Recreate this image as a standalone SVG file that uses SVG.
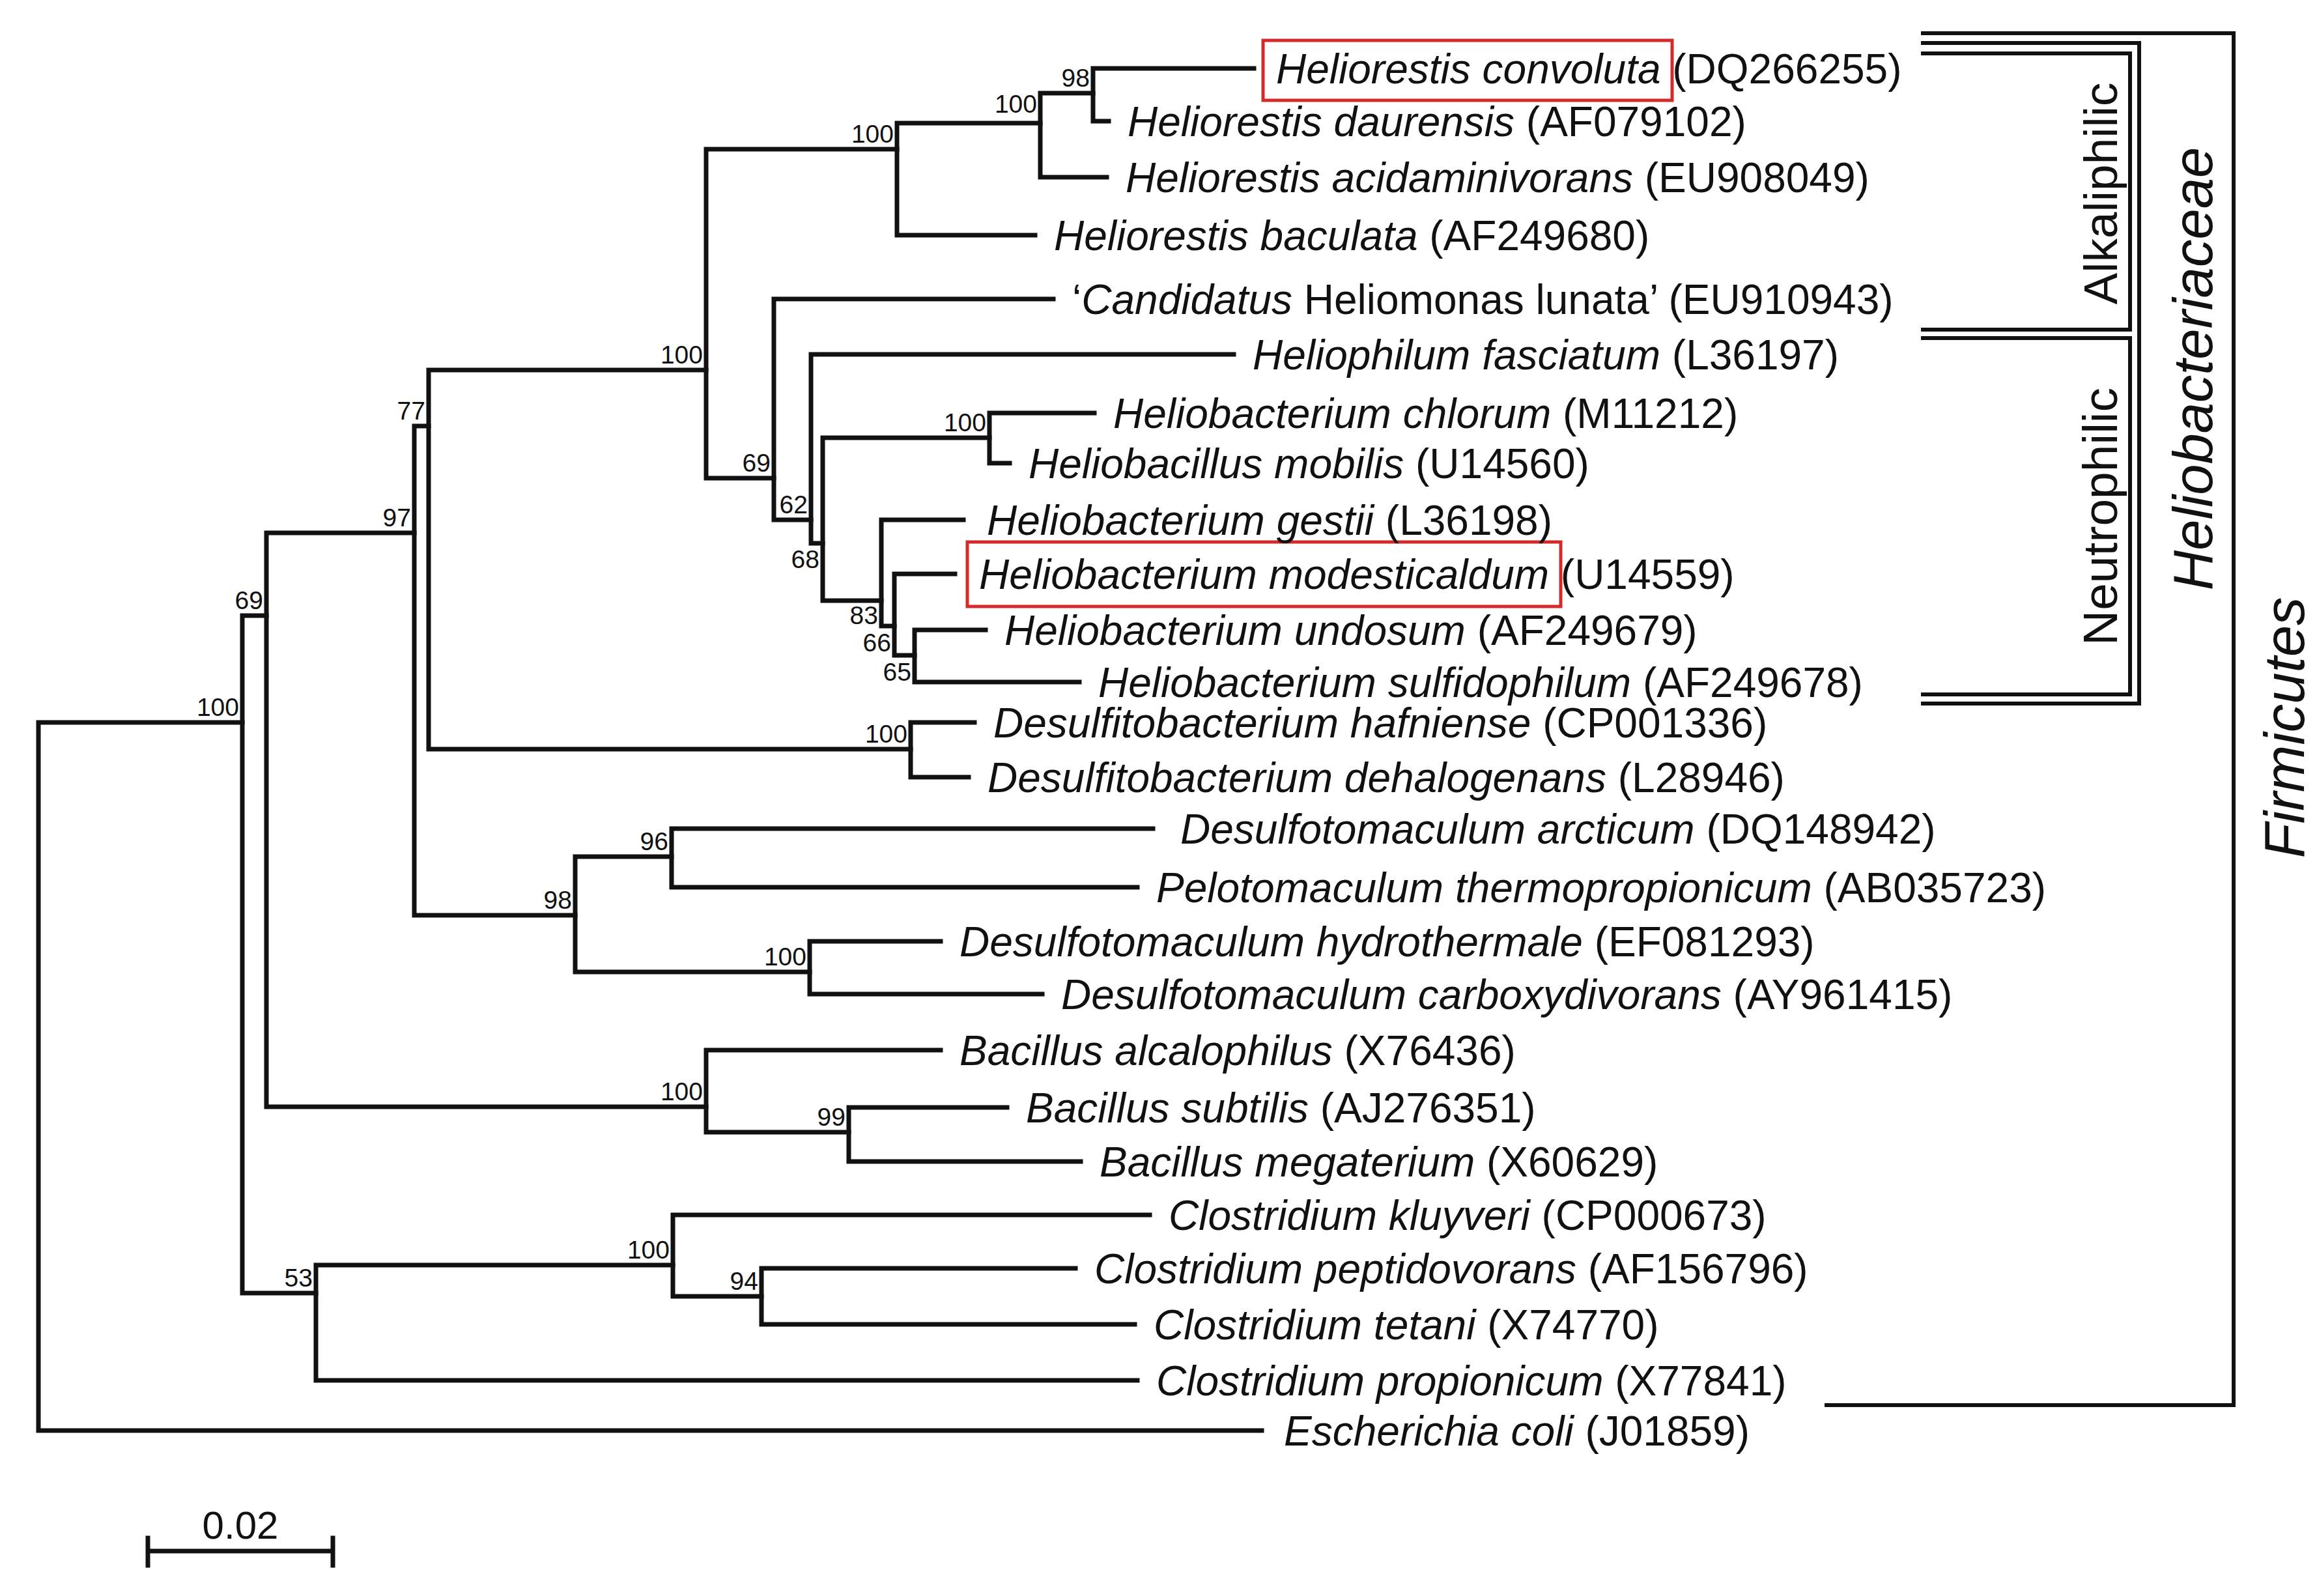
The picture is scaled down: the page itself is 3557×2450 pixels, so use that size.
<svg xmlns="http://www.w3.org/2000/svg" width="3557" height="2450" viewBox="0 0 3557 2450">
<style>
.t{font-family:"Liberation Sans",Arial,sans-serif;font-size:64px;fill:#111}
.i{font-style:italic}
.v{font-family:"Liberation Sans",Arial,sans-serif;fill:#111;text-anchor:middle}
.b{font-family:"Liberation Sans",Arial,sans-serif;font-size:39px;fill:#111;text-anchor:end}
.e path{fill:none;stroke:#111;stroke-width:7;stroke-linecap:square}
.k{fill:none;stroke:#111;stroke-width:6}
.box{fill:none;stroke:#d42a2a;stroke-width:5}
</style>
<rect width="3557" height="2450" fill="#fff"/>
<g id="connectors" class="e">
<path d="M59,1109V2196H1937M59,1109H372"/>
<path d="M372,945V1985M372,945H409M372,1985H485"/>
<path d="M409,818V1699M409,818H636M409,1699H1084"/>
<path d="M636,654V1405M636,654H658M636,1405H883"/>
<path d="M658,568V1150M658,568H1084M658,1150H1398"/>
<path d="M1084,229V734M1084,229H1377M1084,734H1188"/>
<path d="M1377,189V361M1377,189H1597M1377,361H1589"/>
<path d="M1597,143V272M1597,143H1678M1597,272H1699"/>
<path d="M1678,105V186M1678,105H1925M1678,186H1702"/>
<path d="M1188,459V798M1188,459H1617M1188,798H1245"/>
<path d="M1245,544V834M1245,544H1894M1245,834H1263"/>
<path d="M1263,672V922M1263,672H1519M1263,922H1353"/>
<path d="M1519,634V711M1519,634H1680M1519,711H1550"/>
<path d="M1353,798V961M1353,798H1479M1353,961H1373"/>
<path d="M1373,881V1006M1373,881H1466M1373,1006H1404"/>
<path d="M1404,967V1047M1404,967H1513M1404,1047H1657"/>
<path d="M1398,1109V1193M1398,1109H1496M1398,1193H1487"/>
<path d="M883,1315V1492M883,1315H1031M883,1492H1243"/>
<path d="M1031,1272V1362M1031,1272H1770M1031,1362H1746"/>
<path d="M1243,1445V1526M1243,1445H1444M1243,1526H1600"/>
<path d="M1084,1612V1738M1084,1612H1444M1084,1738H1303"/>
<path d="M1303,1700V1783M1303,1700H1546M1303,1783H1659"/>
<path d="M485,1942V2119M485,1942H1033M485,2119H1746"/>
<path d="M1033,1865V1990M1033,1865H1765M1033,1990H1169"/>
<path d="M1169,1947V2033M1169,1947H1651M1169,2033H1742"/>
<path d="M227,2381H511M227,2361V2403M511,2361V2403"/>
</g>
<g id="brackets">
<path class="k" d="M2949,51H3429V2157H2801"/>
<path class="k" d="M2949,66H3284V1080H2949"/>
<path class="k" d="M2949,82H3270V506H2949"/>
<path class="k" d="M2949,519H3270V1066H2949"/>
<text class="v" style="font-size:73px" transform="translate(3250,297) rotate(-90)">Alkaliphilic</text>
<text class="v" style="font-size:75px" transform="translate(3250,793) rotate(-90)">Neutrophilic</text>
<text class="v i" style="font-size:85px" transform="translate(3396,566) rotate(-90)">Heliobacteriaceae</text>
<text class="v i" style="font-size:87px" transform="translate(3537,1117) rotate(-90)">Firmicutes</text>
</g>
<g id="highlights">
<rect class="box" x="1939" y="62" width="628" height="92"/>
<rect class="box" x="1485" y="832" width="911" height="99"/>
</g>
<g id="bootstrap">
<text class="b" x="1673" y="133">98</text>
<text class="b" x="1592" y="173">100</text>
<text class="b" x="1372" y="219">100</text>
<text class="b" x="1079" y="558">100</text>
<text class="b" x="653" y="644">77</text>
<text class="b" x="631" y="808">97</text>
<text class="b" x="404" y="935">69</text>
<text class="b" x="367" y="1099">100</text>
<text class="b" x="1183" y="724">69</text>
<text class="b" x="1240" y="788">62</text>
<text class="b" x="1514" y="662">100</text>
<text class="b" x="1258" y="872">68</text>
<text class="b" x="1348" y="958">83</text>
<text class="b" x="1368" y="1000">66</text>
<text class="b" x="1399" y="1045">65</text>
<text class="b" x="1393" y="1140">100</text>
<text class="b" x="1026" y="1305">96</text>
<text class="b" x="878" y="1395">98</text>
<text class="b" x="1238" y="1482">100</text>
<text class="b" x="1079" y="1689">100</text>
<text class="b" x="1298" y="1728">99</text>
<text class="b" x="1028" y="1932">100</text>
<text class="b" x="1164" y="1980">94</text>
<text class="b" x="480" y="1975">53</text>
</g>
<g id="taxa">
<text class="t" x="1959" y="128"><tspan class="i">Heliorestis convoluta</tspan> (DQ266255)</text>
<text class="t" x="1731" y="209"><tspan class="i">Heliorestis daurensis</tspan> (AF079102)</text>
<text class="t" x="1728" y="295"><tspan class="i">Heliorestis acidaminivorans</tspan> (EU908049)</text>
<text class="t" x="1618" y="384"><tspan class="i">Heliorestis baculata</tspan> (AF249680)</text>
<text class="t" x="1646" y="482">‘<tspan class="i">Candidatus</tspan> Heliomonas lunata’ (EU910943)</text>
<text class="t" x="1923" y="567"><tspan class="i">Heliophilum fasciatum</tspan> (L36197)</text>
<text class="t" x="1709" y="657"><tspan class="i">Heliobacterium chlorum</tspan> (M11212)</text>
<text class="t" x="1579" y="734"><tspan class="i">Heliobacillus mobilis</tspan> (U14560)</text>
<text class="t" x="1515" y="821"><tspan class="i">Heliobacterium gestii</tspan> (L36198)</text>
<text class="t" x="1503" y="904"><tspan class="i">Heliobacterium modesticaldum</tspan> (U14559)</text>
<text class="t" x="1542" y="990"><tspan class="i">Heliobacterium undosum</tspan> (AF249679)</text>
<text class="t" x="1686" y="1070"><tspan class="i">Heliobacterium sulfidophilum</tspan> (AF249678)</text>
<text class="t" x="1525" y="1132"><tspan class="i">Desulfitobacterium hafniense</tspan> (CP001336)</text>
<text class="t" x="1516" y="1216"><tspan class="i">Desulfitobacterium dehalogenans</tspan> (L28946)</text>
<text class="t" x="1812" y="1295"><tspan class="i">Desulfotomaculum arcticum</tspan> (DQ148942)</text>
<text class="t" x="1775" y="1385"><tspan class="i">Pelotomaculum thermopropionicum</tspan> (AB035723)</text>
<text class="t" x="1473" y="1468"><tspan class="i">Desulfotomaculum hydrothermale</tspan> (EF081293)</text>
<text class="t" x="1629" y="1549"><tspan class="i">Desulfotomaculum carboxydivorans</tspan> (AY961415)</text>
<text class="t" x="1473" y="1635"><tspan class="i">Bacillus alcalophilus</tspan> (X76436)</text>
<text class="t" x="1575" y="1723"><tspan class="i">Bacillus subtilis</tspan> (AJ276351)</text>
<text class="t" x="1688" y="1806"><tspan class="i">Bacillus megaterium</tspan> (X60629)</text>
<text class="t" x="1794" y="1888"><tspan class="i">Clostridium kluyveri</tspan> (CP000673)</text>
<text class="t" x="1680" y="1970"><tspan class="i">Clostridium peptidovorans</tspan> (AF156796)</text>
<text class="t" x="1771" y="2056"><tspan class="i">Clostridium tetani</tspan> (X74770)</text>
<text class="t" x="1775" y="2142"><tspan class="i">Clostridium propionicum</tspan> (X77841)</text>
<text class="t" x="1971" y="2219"><tspan class="i">Escherichia coli</tspan> (J01859)</text>
<text class="v" style="font-size:60px" x="369" y="2362">0.02</text>
</g>
</svg>
